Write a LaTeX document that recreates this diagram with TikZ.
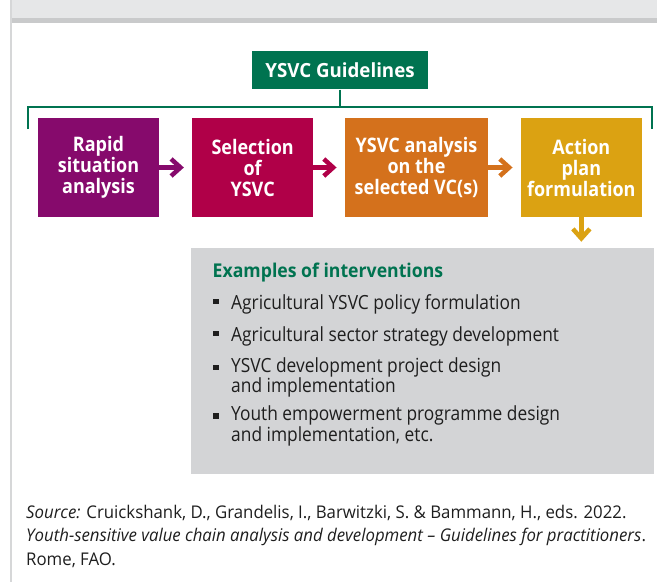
\documentclass[tikz,border=0pt]{standalone}
\usepackage{fontspec}
\setmainfont{Open Sans}
\newfontfamily\boxfont{Open Sans}[FakeStretch=0.90]
\newfontfamily\titlefont{Open Sans}[FakeStretch=0.96]
\newfontfamily\headfont{Open Sans}[FakeStretch=0.93]
\newfontfamily\listfont{Open Sans}[FakeStretch=0.89]
\newfontfamily\srcfont{Open Sans}[FakeStretch=0.96]
\definecolor{fgreen}{RGB}{0,115,80}
\definecolor{fpurple}{RGB}{134,10,108}
\definecolor{fcrimson}{RGB}{176,0,72}
\definecolor{forange}{RGB}{212,113,28}
\definecolor{fgold}{RGB}{219,162,18}
\definecolor{panelgray}{RGB}{211,212,214}
\definecolor{bandgray}{RGB}{230,231,232}
\definecolor{banddark}{RGB}{201,202,203}
\definecolor{framegray}{RGB}{214,215,216}
\definecolor{inkgray}{RGB}{30,30,30}
\begin{document}
\begin{tikzpicture}[x=1pt,y=-1pt,
  stage/.style={fill=#1, text=white, inner sep=0pt, minimum height=98.5pt,
    align=center, font=\boxfont\bfseries\fontsize{20}{21}\selectfont},
  shaft/.style={draw=#1, line width=4.5pt},
  chevron/.style={draw=#1, line width=4.5pt, line join=miter},
  bracket/.style={draw=fgreen, line width=2pt},
  itemtext/.style={anchor=base west, inner sep=0pt, align=left, text=inkgray,
    font=\listfont\fontsize{19.5}{17.5}\selectfont},
  bulletsq/.style={fill=inkgray, inner sep=0pt, minimum size=5.5pt}]
\useasboundingbox (0,0) rectangle (657,582);
% page frame: header band and left rule
\fill[bandgray] (11.5,0) rectangle (657,18);
\fill[banddark] (11.5,18) rectangle (657,23);
\fill[framegray] (10,0) rectangle (11.5,582);

% guidelines heading
\node[fill=fgreen, text=white, inner sep=0pt, minimum width=176pt, minimum height=38.3pt,
  font=\titlefont\bfseries\fontsize{19.5}{21}\selectfont] (g) at (340,70.2) {YSVC Guidelines};

% bracket over the four stages
\coordinate (bl) at (27.7,129);
\coordinate (tl) at (27.7,107);
\coordinate (tr) at (651.7,107);
\coordinate (br) at (651.7,129);
\draw[bracket] (bl) -- (tl) -- (tr) -- (br);
\draw[bracket] (g.south) -- (g.south |- tl);

% stages
\node[stage=fpurple, minimum width=121pt] (s1) at (98.5,167.5) {Rapid\\situation\\analysis};
\node[stage=fcrimson, minimum width=120.7pt] (s2) at (252.65,167.5) {Selection\\of\\YSVC};
\node[stage=forange, minimum width=143pt] (s3) at (416.5,167.5) {YSVC analysis\\on the\\selected VC(s)};
\node[stage=fgold, minimum width=120.7pt] (s4) at (581.35,167.5) {Action\\plan\\formulation};

% arrows between stages
\foreach \a/\b/\c in {s1/s2/fpurple, s2/s3/fcrimson, s3/s4/forange}{
  \draw[shaft=\c] (\a.east) -- ([xshift=-13pt]\b.west);
  \draw[chevron=\c] ([xshift=-21pt,yshift=8.5pt]\b.west) -- ([xshift=-11.6pt]\b.west)
    -- ([xshift=-21pt,yshift=-8.5pt]\b.west);
}
\coordinate (dn) at ([yshift=-21.4pt]s4.south);
\draw[shaft=fgold] (s4.south) -- ([yshift=1.5pt]dn);
\draw[chevron=fgold] ([xshift=-8.5pt,yshift=9.5pt]dn) -- (dn) -- ([xshift=8.5pt,yshift=9.5pt]dn);

% examples panel
\node[fill=panelgray, anchor=north west, inner sep=0pt, minimum width=463pt,
  minimum height=226.3pt] (ex) at (191,247.7) {};
\node[anchor=base west, inner sep=0pt, text=fgreen,
  font=\headfont\bfseries\fontsize{19}{21}\selectfont] (exh) at (212.5,277.7) {Examples of interventions};
% multi-line nodes sit on the baseline of their last line
\node[itemtext] (i1) at (231,309) {Agricultural YSVC policy formulation};
\node[itemtext] (i2) at (231,341) {Agricultural sector strategy development};
\node[itemtext] (i3) at (231,392.5) {YSVC development project design\\and implementation};
\node[itemtext] (i4) at (231,441) {Youth empowerment programme design\\and implementation, etc.};
\node[bulletsq] (b1) at ([xshift=-15pt,yshift=7.3pt]i1.base west) {};
\node[bulletsq] (b2) at ([xshift=-15pt,yshift=7.3pt]i2.base west) {};
\node[bulletsq] (b3) at ([xshift=-15pt,yshift=24.8pt]i3.base west) {};
\node[bulletsq] (b4) at ([xshift=-15pt,yshift=24.8pt]i4.base west) {};

% source line
\node[anchor=base west, inner sep=0pt, align=left, text=inkgray,
  font=\srcfont\fontsize{17.5}{23.5}\selectfont] (src) at (26,565)
  {\textit{Source:} Cruickshank, D., Grandelis, I., Barwitzki, S. \& Bammann, H., eds. 2022.\\
   \textit{Youth-sensitive value chain analysis and development – Guidelines for practitioners}.\\
   Rome, FAO.};
\end{tikzpicture}
\end{document}
